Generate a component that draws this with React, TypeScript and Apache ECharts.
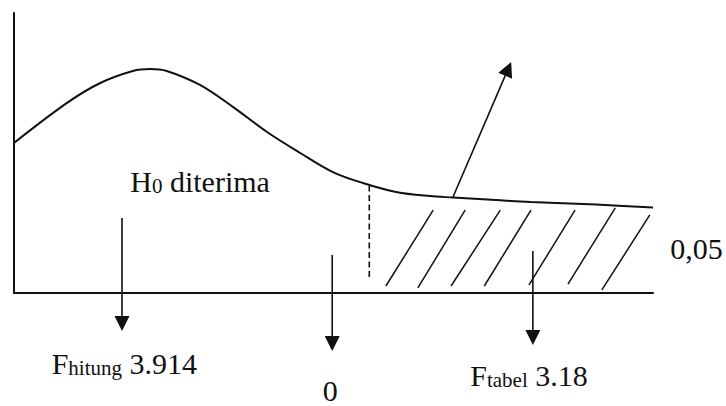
import React, { useEffect, useRef } from "react";
import * as echarts from "echarts";

// F-distribution sketch curve (arbitrary units: x 0..100, y 0..100)
const curveX = [0, 8.3, 13.5, 18.6, 21.3, 23.9, 29.1, 34.3, 39.6, 44.8, 49.9, 54.6, 59.8, 65.1, 68.7, 75.4, 80.8, 91.1, 100];
const curveY = [53.6, 67.9, 75, 79.3, 80, 79.3, 74.3, 66.4, 57.5, 50, 43.2, 39.3, 36.1, 34.6, 34.1, 33.2, 32.5, 31.6, 30.5];

// critical value dashed line
const criticalX = 55.6;
const criticalY = [5.7, 38.6];

// hatch lines of rejection region [x1, y1, x2, y2]
const hatchLines = [
  [58.2, 2.5, 65.6, 29.6],
  [63.2, 1.8, 70.6, 29.6],
  [68.4, 2.5, 76.1, 29.6],
  [73.6, 2.5, 80.9, 29.6],
  [80.6, 2.9, 87.8, 29.6],
  [86.7, 3.2, 94.1, 30.4],
  [92.0, 1.1, 99.5, 27.9],
];

// arrows [x1, y1, x2(tip), y2(tip)]
const arrows = [
  [68.7, 34.3, 77.8, 82.5],
  [16.9, 26.8, 16.9, -13.6],
  [49.8, 13.6, 49.8, -20.7],
  [81.2, 15.0, 81.2, -18.6],
];

// labels
const labelTexts = [
  "{m|H}{s|0}{m| diterima}",
  "{m|F}{s|hitung}{m| 3.914}",
  "{m|F}{s|tabel}{m| 3.18}",
  "{m|0,05}",
  "{m|0}",
];
const labelX = [18.2, 5.9, 71.4, 102.7, 49.5];
const labelY = [36.1, -28.6, -32.9, 12.5, -38.4];
const labelAlign = ["left", "left", "left", "left", "center"];

const INK = "#111";
const FONT = "Liberation Serif";

export default function App() {
  const ref = useRef<HTMLDivElement>(null);
  useEffect(() => {
    if (!ref.current) return;
    const chart = echarts.init(ref.current, null, { renderer: "svg" });
    const rich = {
      m: { fontSize: 30, fontFamily: FONT, fill: INK, lineHeight: 30, verticalAlign: "bottom" },
      s: { fontSize: 21, fontFamily: FONT, fill: INK, lineHeight: 21, verticalAlign: "bottom" },
    };
    chart.setOption({
      animation: false,
      backgroundColor: "#fff",
      grid: { left: 14, right: 73, top: 13, bottom: 113, containLabel: false },
      xAxis: {
        type: "value", min: 0, max: 100,
        axisLine: { show: true, lineStyle: { color: INK, width: 2 } },
        axisTick: { show: false }, axisLabel: { show: false }, splitLine: { show: false },
      },
      yAxis: {
        type: "value", min: 0, max: 100,
        axisLine: { show: true, lineStyle: { color: INK, width: 2 } },
        axisTick: { show: false }, axisLabel: { show: false }, splitLine: { show: false },
      },
      series: [
        {
          type: "line",
          data: curveX.map((x, i) => [x, curveY[i]]),
          smooth: 0.35,
          symbol: "none",
          clip: false,
          lineStyle: { color: INK, width: 2 },
        },
        {
          type: "custom",
          data: [[criticalX, criticalY[0], criticalX, criticalY[1]]],
          renderItem: (params: any, api: any) => {
            const a = api.coord([api.value(0), api.value(1)]);
            const b = api.coord([api.value(2), api.value(3)]);
            return {
              type: "line",
              shape: { x1: a[0], y1: a[1], x2: b[0], y2: b[1] },
              style: { stroke: INK, lineWidth: 1.6, lineDash: [6, 3.5] },
            };
          },
        },
        {
          type: "custom",
          data: hatchLines,
          renderItem: (params: any, api: any) => {
            const a = api.coord([api.value(0), api.value(1)]);
            const b = api.coord([api.value(2), api.value(3)]);
            return {
              type: "line",
              shape: { x1: a[0], y1: a[1], x2: b[0], y2: b[1] },
              style: { stroke: INK, lineWidth: 1.5 },
            };
          },
        },
        {
          type: "custom",
          data: arrows,
          renderItem: (params: any, api: any) => {
            const a = api.coord([api.value(0), api.value(1)]);
            const b = api.coord([api.value(2), api.value(3)]);
            const dx = b[0] - a[0];
            const dy = b[1] - a[1];
            const len = Math.sqrt(dx * dx + dy * dy);
            const ux = dx / len, uy = dy / len;
            const hl = 15, hw = 7.5;
            const bx = b[0] - ux * hl, by = b[1] - uy * hl;
            return {
              type: "group",
              children: [
                {
                  type: "line",
                  shape: { x1: a[0], y1: a[1], x2: bx + ux * 2, y2: by + uy * 2 },
                  style: { stroke: INK, lineWidth: 1.6 },
                },
                {
                  type: "polygon",
                  shape: {
                    points: [
                      [b[0], b[1]],
                      [bx - uy * hw, by + ux * hw],
                      [bx + uy * hw, by - ux * hw],
                    ],
                  },
                  style: { fill: INK },
                },
              ],
            };
          },
        },
        {
          type: "custom",
          data: labelX.map((x, i) => [x, labelY[i], i]),
          renderItem: (params: any, api: any) => {
            const i = api.value(2);
            const p = api.coord([api.value(0), api.value(1)]);
            return {
              type: "text",
              x: p[0],
              y: p[1] + 5,
              style: {
                text: labelTexts[i],
                rich,
                fill: INK,
                fontFamily: FONT,
                fontSize: 30,
                align: labelAlign[i],
                verticalAlign: "bottom",
              },
            };
          },
        },
      ],
    });
    return () => chart.dispose();
  }, []);
  return (
    <div
      ref={ref}
      style={{ position: "absolute", left: 0, top: 0, width: 726, height: 406, background: "#fff" }}
    />
  );
}
